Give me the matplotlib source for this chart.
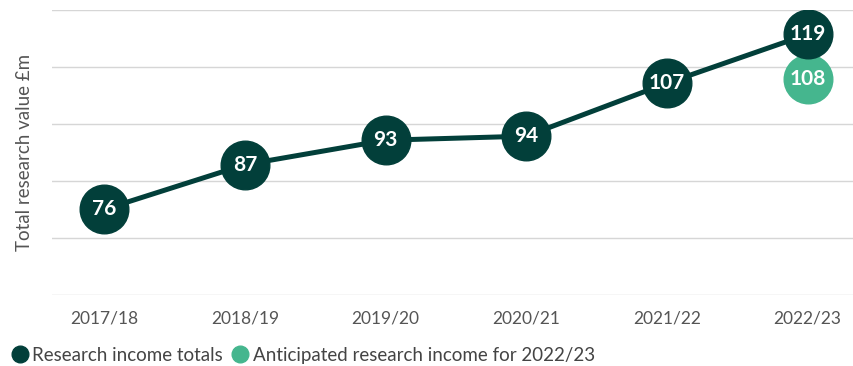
import matplotlib
matplotlib.use("Agg")
import matplotlib.pyplot as plt
from matplotlib.lines import Line2D
import numpy as np

plt.rcParams['font.family'] = ['Lato', 'DejaVu Sans']

# Research income by academic year (£m)
years = ["2017/18", "2018/19", "2019/20", "2020/21", "2021/22", "2022/23"]
income_totals = [76, 87, 93, 94, 107, 119]
anticipated_year = "2022/23"
anticipated_value = 108

DARK = "#023f3a"
LIGHT = "#45b68e"
GREY_TEXT = "#555555"
GRID = "#d6d6d6"

fig = plt.figure(figsize=(8.54, 3.66), dpi=100)
ax = fig.add_axes([0.061, 0.194, 0.939, 0.779])

x = np.arange(len(years))
ax.plot(x, income_totals, color=DARK, lw=3.6, zorder=3,
        marker="o", markersize=35, markerfacecolor=DARK, markeredgecolor=DARK)
for xi, v in zip(x, income_totals):
    ax.text(xi, v, str(v), color="white", fontsize=15, fontweight="bold",
            ha="center", va="center", zorder=5)

xa = years.index(anticipated_year)
ax.plot([xa], [anticipated_value], marker="o", markersize=35, color=LIGHT,
        zorder=2, linestyle="none")
ax.text(xa, anticipated_value, str(anticipated_value), color="white",
        fontsize=15, fontweight="bold", ha="center", va="center", zorder=2.5)

ax.set_xlim(-0.37, 5.33)
ax.set_ylim(55, 125)
ax.set_yticks(np.linspace(55, 125, 6))
ax.set_yticklabels([])
ax.tick_params(axis="y", length=0)
ax.grid(axis="y", color=GRID, lw=1)
ax.set_axisbelow(True)
for s in ax.spines.values():
    s.set_visible(False)

ax.set_xticks(x)
ax.set_xticklabels(years, color=GREY_TEXT, fontsize=12.5)
ax.tick_params(axis="x", length=0, pad=11)
ax.set_ylabel("Total research value £m", color=GREY_TEXT, fontsize=13.5, labelpad=10)

handles = [
    Line2D([], [], marker="o", linestyle="none", markersize=12, color=DARK,
           label="Research income totals"),
    Line2D([], [], marker="o", linestyle="none", markersize=12, color=LIGHT,
           label="Anticipated research income for 2022/23"),
]
leg = fig.legend(handles=handles, loc="lower left", bbox_to_anchor=(0.0, -0.025),
                 ncol=2, frameon=False, fontsize=13.5, handletextpad=0.2,
                 columnspacing=0.5, handlelength=0.9, borderaxespad=0.2)
for t in leg.get_texts():
    t.set_color("#444444")

fig.savefig("out.png", dpi=100)
